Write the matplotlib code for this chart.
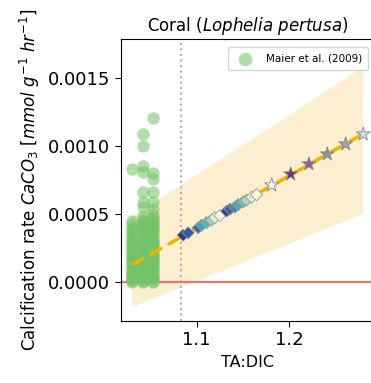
import numpy as np
import matplotlib.pyplot as plt

# Maier et al. (2009) measurements, three TA:DIC groups
maier_x = [1.030, 1.042, 1.053]
maier_left = [0.00083, 0.00045, 0.00043, 0.00040, 0.00038, 0.00036, 0.00034, 0.00032,
              0.00030, 0.00028, 0.00026, 0.00025, 0.00023, 0.00021, 0.00019, 0.00018,
              0.00016, 0.00015, 0.00013, 0.00011, 0.00009, 0.00008, 0.00006, 0.00005,
              0.00003, 0.00002, 0.00001, 0.00000]
maier_mid = [0.00109, 0.00100, 0.00085, 0.00081, 0.00066, 0.00059, 0.00055, 0.00048,
             0.00046, 0.00044, 0.00042, 0.00041, 0.00039, 0.00037, 0.00035, 0.00033,
             0.00031, 0.00029, 0.00027, 0.00026, 0.00024, 0.00022, 0.00020, 0.00019,
             0.00017, 0.00016, 0.00014, 0.00013, 0.00011, 0.00010, 0.00008, 0.00007,
             0.00005, 0.00004, 0.00002, 0.00001, 0.00000]
maier_right = [0.00121, 0.00080, 0.00076, 0.00066, 0.00059, 0.00054, 0.00049, 0.00047,
               0.00045, 0.00043, 0.00042, 0.00040, 0.00038, 0.00036, 0.00034, 0.00032,
               0.00030, 0.00028, 0.00027, 0.00025, 0.00023, 0.00021, 0.00020, 0.00018,
               0.00017, 0.00015, 0.00013, 0.00011, 0.00010, 0.00008, 0.00006, 0.00004,
               0.00003, 0.00001, 0.00000]

# projected values (diamonds)
dia_x = [1.0855, 1.0909, 1.1017, 1.1053, 1.1107, 1.1161, 1.1197, 1.1251,
         1.1323, 1.1359, 1.1413, 1.1449, 1.1503, 1.1539, 1.1593, 1.1647]
dia_y = [0.000345, 0.000362, 0.000400, 0.000418, 0.000437, 0.000456, 0.000474, 0.000490,
         0.000522, 0.000536, 0.000552, 0.000570, 0.000590, 0.000602, 0.000625, 0.000642]
dia_c = ['#2b3584', '#35579f', '#3a6eaa', '#4aa2b8', '#55b5bd', '#9fd6bc', '#e6f2d6', '#f4f6e8',
         '#2c3a8a', '#3e62a6', '#3f86b5', '#4aa8bb', '#6cc0bb', '#a8dabb', '#d9efd0', '#eef5e0']

# projected values (stars)
star_x = [1.1809, 1.2014, 1.2211, 1.2409, 1.2607, 1.2797]
star_y = [0.000713, 0.000794, 0.000868, 0.000941, 0.001015, 0.001088]
star_c = ['#f6f4ec', '#7a2f6e', '#8d6597', '#8c93a2', '#9aa2ae', '#c8dbea']

# fit and uncertainty band
fit_x = [1.030, 1.280]
fit_y = [0.000125, 0.001092]
band_x = [1.030, 1.279]
band_lo = [-0.000181, 0.000505]
band_hi = [0.000485, 0.001583]

ta_dic_now = 1.083

fig = plt.figure(figsize=(3.71, 3.83), dpi=100)
ax = fig.add_axes([0.325, 0.163, 0.685, 0.735])

ax.fill_between(band_x, band_lo, band_hi, color='#fcefd0', lw=0, zorder=1)
ax.axvline(ta_dic_now, color='#b0b0b0', ls=':', lw=1.5, zorder=2)
ax.axhline(0, color='#e8796c', lw=1.6, zorder=2)

for xx, vals in zip(maier_x, [maier_left, maier_mid, maier_right]):
    ax.scatter([xx]*len(vals), vals, s=80, color='#72c267', alpha=0.55, lw=0, zorder=3,
               label='Maier et al. (2009)' if xx == maier_x[0] else None)

ax.plot(fit_x, fit_y, color='#f0b400', lw=2.5, ls=(0, (4, 2)), zorder=4)
ax.scatter(dia_x, dia_y, marker='D', s=38, c=dia_c, edgecolors='#9a9a9a', linewidths=0.6, zorder=5)
ax.scatter(star_x, star_y, marker='*', s=110, c=star_c, edgecolors='#888888', linewidths=0.6, zorder=5)

ax.set_xlim(1.018, 1.292)
ax.set_ylim(-0.000283, 0.001787)
ax.set_xticks([1.1, 1.2])
ax.set_yticks([0, 0.0005, 0.0010, 0.0015])
ax.set_yticklabels(['0.0000', '0.0005', '0.0010', '0.0015'])
ax.tick_params(labelsize=13, length=4)
ax.spines['right'].set_visible(False)

ax.set_title('Coral ($\\it{Lophelia\\ pertusa}$)', fontsize=12)
ax.set_xlabel('TA:DIC', fontsize=11.5)
ax.set_ylabel('Calcification rate $CaCO_3$ [$mmol\\ g^{-1}\\ hr^{-1}$]', fontsize=12)
ax.legend(loc='upper right', fontsize=7.5, bbox_to_anchor=(0.995, 0.99), handletextpad=1.0,
          borderpad=0.6, markerscale=1.1, framealpha=0.8)

fig.savefig('out.png')
